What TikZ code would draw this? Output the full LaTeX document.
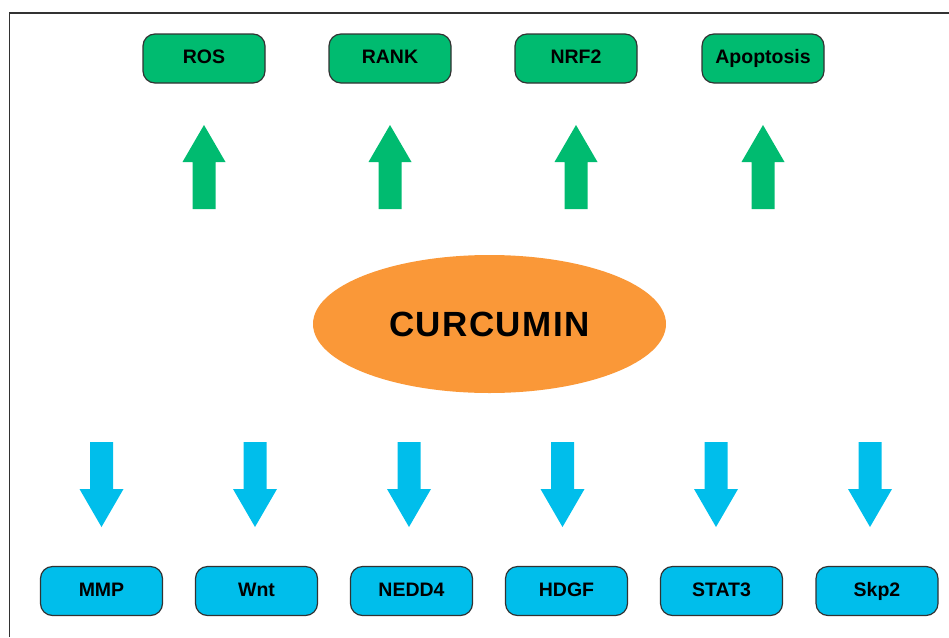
\documentclass[tikz,border=0pt]{standalone}
\usepackage{fontspec}
\setmainfont{Liberation Sans}
\usetikzlibrary{shapes.geometric}
\definecolor{upgreen}{RGB}{0,187,112}
\definecolor{downblue}{RGB}{0,190,235}
\definecolor{curorange}{RGB}{250,152,56}
\definecolor{edgegray}{RGB}{50,50,50}
\tikzset{
  box/.style={draw=edgegray, line width=1.2pt, rounded corners=12pt, minimum width=122pt, minimum height=49pt, inner sep=0pt, text height=14pt, text depth=4pt, font=\fontsize{19.5}{22}\selectfont\bfseries},
  upbox/.style={box, fill=upgreen},
  downbox/.style={box, fill=downblue},
  uparrow/.style={fill=upgreen, draw=none},
  downarrow/.style={fill=downblue, draw=none},
  frameline/.style={draw=edgegray, line width=1.5pt}
}
\begin{document}
\begin{tikzpicture}[x=1pt,y=-1pt]
\useasboundingbox (0,0) rectangle (949,637);
\draw[frameline] (9.5,637) -- (9.5,13) -- (949,13);
% top boxes
\node[upbox] (ros) at (204,58.5) {ROS};
\node[upbox] (rank) at (390,58.5) {RANK};
\node[upbox] (nrf) at (576,58.5) {NRF2};
\node[upbox] (apo) at (763,58.5) {Apoptosis};
% up arrows
\foreach \cx in {204,390,576,763}{
  \fill[uparrow] (\cx,125) -- (\cx+21.5,162) -- (\cx+11.5,162) -- (\cx+11.5,209) -- (\cx-11.5,209) -- (\cx-11.5,162) -- (\cx-21.5,162) -- cycle;
}
% centre
\node[ellipse, fill=curorange, draw=none, minimum width=353pt, minimum height=138pt, inner sep=0pt,
  font=\fontsize{35}{40}\selectfont\bfseries\addfontfeature{LetterSpace=4}] (cur) at (489.5,324) {CURCUMIN};
% down arrows
\foreach \cx in {101.5,255,409,562.5,716,870}{
  \fill[downarrow] (\cx-11.5,442) -- (\cx+11.5,442) -- (\cx+11.5,489) -- (\cx+22,489) -- (\cx,527) -- (\cx-22,489) -- (\cx-11.5,489) -- cycle;
}
% bottom boxes
\node[downbox] (mmp) at (101.5,591) {MMP};
\node[downbox] (wnt) at (256.5,591) {Wnt};
\node[downbox] (nedd) at (411.5,591) {NEDD4};
\node[downbox] (hdgf) at (566.5,591) {HDGF};
\node[downbox] (stat) at (721.5,591) {STAT3};
\node[downbox] (skp) at (877,591) {Skp2};
\end{tikzpicture}
\end{document}
